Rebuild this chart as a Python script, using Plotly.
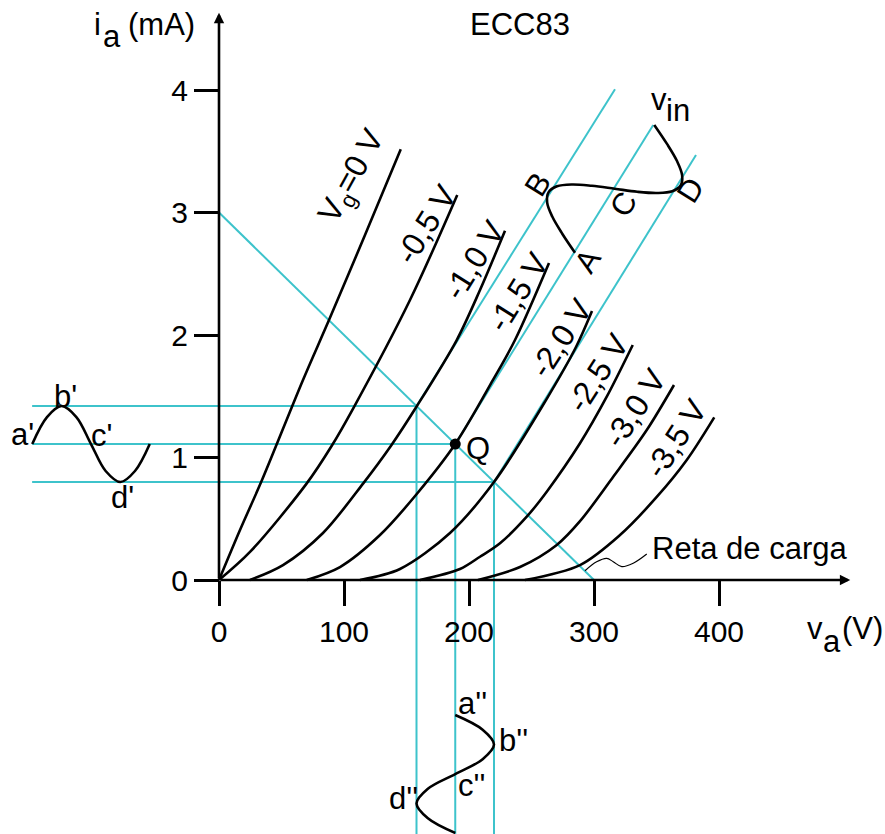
import plotly.graph_objects as go

# ---------------- figure geometry (style) ----------------
W, H = 885, 834
ORIGIN_PX = (219.0, 580.0)      # pixel position of (0 V, 0 mA)
PX_PER_V = 1.25
PX_PER_MA = 122.5
X_RANGE = [-ORIGIN_PX[0] / PX_PER_V, (W - ORIGIN_PX[0]) / PX_PER_V]
Y_RANGE = [-(H - ORIGIN_PX[1]) / PX_PER_MA, ORIGIN_PX[1] / PX_PER_MA]

FONT = "Liberation Sans, Arial, Helvetica, sans-serif"
FS = 31
CYAN = "#3dc3cb"
BLACK = "black"

# ---------------- data ----------------
title_text = "ECC83"
x_ticks = [0, 100, 200, 300, 400]
y_ticks = [0, 1, 2, 3, 4]
x_axis_end = 505.0
y_axis_end = 4.63

grid_labels = ["V<sub>g</sub>=0 V", "-0,5 V", "-1,0 V", "-1,5 V",
               "-2,0 V", "-2,5 V", "-3,0 V", "-3,5 V"]

va_vg00 = [0, 16.8, 34.4, 67.2, 88.0, 116.8, 145.4]
ia_vg00 = [0, 0.408, 0.816, 1.633, 2.122, 2.816, 3.516]
va_vg05 = [0, 24.8, 70.2, 90.2, 107.4, 152.8, 190.6]
ia_vg05 = [0, 0.229, 0.789, 1.096, 1.402, 2.286, 3.143]
va_vg10 = [24.8, 51.2, 83.2, 115.4, 137.6, 158.2, 190.2, 208.8, 228.8]
ia_vg10 = [0, 0.122, 0.384, 0.789, 1.096, 1.418, 1.959, 2.367, 2.851]
va_vg15 = [70.2, 96.8, 128.8, 158.2, 189.0, 219.2, 236.8, 264.0]
ia_vg15 = [0, 0.106, 0.367, 0.702, 1.11, 1.633, 1.959, 2.588]
va_vg20 = [112.8, 144.8, 184.8, 220.0, 261.6, 285.6, 298.4]
ia_vg20 = [0, 0.090, 0.384, 0.80, 1.469, 1.902, 2.196]
va_vg25 = [160.8, 192.8, 208.8, 224.8, 246.2, 262.2, 288.8, 310.2, 331.0]
ia_vg25 = [0, 0.090, 0.190, 0.300, 0.517, 0.721, 1.116, 1.496, 1.918]
va_vg30 = [207.2, 240.8, 270.2, 288.8, 315.4, 342.2, 364.0]
ia_vg30 = [0, 0.106, 0.286, 0.48, 0.843, 1.224, 1.592]
va_vg35 = [244.8, 288.8, 320.8, 350.2, 374.2, 396.2]
ia_vg35 = [0, 0.122, 0.367, 0.678, 0.980, 1.328]

# load line
load_va = [0, 300]
load_ia = [3, 0]

# operating swing: max current, Q point, min current (on the load line)
swing_va = [158.0, 189.0, 220.0]
swing_ia = [1.42, 1.11, 0.80]
swing_left_va = -149.5            # where the horizontal projection lines start
diag_top_va = [316.8, 347.4, 381.6]   # upper ends of the slanted input lines
diag_top_ia = [4.006, 3.714, 3.469]

# input signal v_in (drawn along the slanted lines)
vin_va = [284.8, 274.6, 266.6, 262.5, 263.7, 270.4, 282.4, 298.3, 316.5,
          334.6, 350.6, 362.6, 369.3, 370.5, 366.4, 358.4, 348.2]
vin_ia = [2.672, 2.827, 2.967, 3.083, 3.166, 3.214, 3.229, 3.218, 3.194,
          3.169, 3.159, 3.173, 3.220, 3.303, 3.420, 3.560, 3.715]

# plate current waveform (left)
iwave_va = [-149.4, -137.6, -125.9, -114.1, -102.4, -90.7, -78.9, -67.2, -55.4]
iwave_ia = [1.11, 1.33, 1.42, 1.33, 1.11, 0.89, 0.80, 0.89, 1.11]

# plate voltage waveform (bottom)
vwave_va = [189.0, 210.9, 220.0, 210.9, 189.0, 167.1, 158.0, 167.1, 189.0]
vwave_ia = [-1.102, -1.222, -1.343, -1.463, -1.584, -1.704, -1.824, -1.945, -2.065]

# leader line of the "Reta de carga" label
lead_va = [292.8, 302.1, 310.2, 315.4, 322.2, 331.4, 342.2]
lead_ia = [0.076, 0.149, 0.177, 0.149, 0.109, 0.137, 0.212]

curves = [(va_vg00, ia_vg00), (va_vg05, ia_vg05), (va_vg10, ia_vg10),
          (va_vg15, ia_vg15), (va_vg20, ia_vg20), (va_vg25, ia_vg25),
          (va_vg30, ia_vg30), (va_vg35, ia_vg35)]

# ---------------- drawing ----------------
fig = go.Figure()


def add_line(x, y, color, width, shape="linear", smoothing=1.0):
    fig.add_trace(go.Scatter(
        x=x, y=y, mode="lines",
        line=dict(color=color, width=width, shape=shape, smoothing=smoothing),
        hoverinfo="skip", showlegend=False))


# cyan construction lines
add_line(load_va, load_ia, CYAN, 2)
for va, ia in zip(swing_va, swing_ia):
    add_line([swing_left_va, va], [ia, ia], CYAN, 2)
    add_line([va, va], [ia, Y_RANGE[0] - 0.1], CYAN, 2)
for va, ia, tv, ti in zip(swing_va, swing_ia, diag_top_va, diag_top_ia):
    add_line([va, tv], [ia, ti], CYAN, 2)

# characteristic curves
for va, ia in curves:
    add_line(va, ia, BLACK, 2.6, "spline", 0.9)

# waveforms
add_line(vin_va, vin_ia, BLACK, 2.6, "spline", 1.0)
add_line(iwave_va, iwave_ia, BLACK, 2.6, "spline", 1.0)
add_line(vwave_va, vwave_ia, BLACK, 2.6, "spline", 1.0)
add_line(lead_va, lead_ia, BLACK, 1.2, "spline", 1.0)

# Q point
fig.add_trace(go.Scatter(x=[swing_va[1]], y=[swing_ia[1]], mode="markers",
                         marker=dict(color=BLACK, size=11),
                         hoverinfo="skip", showlegend=False))

# axis lines with arrows
fig.add_annotation(x=x_axis_end, y=0, ax=0, ay=0, xref="x", yref="y",
                   axref="x", ayref="y", showarrow=True, arrowhead=2,
                   arrowsize=0.8, arrowwidth=2.6, arrowcolor=BLACK, text="")
fig.add_annotation(x=0, y=y_axis_end, ax=0, ay=0, xref="x", yref="y",
                   axref="x", ayref="y", showarrow=True, arrowhead=2,
                   arrowsize=0.8, arrowwidth=2.6, arrowcolor=BLACK, text="")


def ptxt(px, py, text, angle=0, size=FS, xanchor="center"):
    fig.add_annotation(x=px / W, y=1 - py / H, xref="paper", yref="paper",
                       text=text, showarrow=False, textangle=angle,
                       xanchor=xanchor, yanchor="middle",
                       font=dict(family=FONT, size=size, color=BLACK))


# curve labels, placed relative to each curve's upper end (pixel offsets)
label_shift = [(-48, 27), (-31, 29), (-31, 29), (-31, 29),
               (-31, 27), (-35, 28), (-39, 23), (-38, 21)]
label_angle = [-61, -58, -58, -58, -57, -57, -57, -57]
for (va, ia), lab, (dx, dy), ang in zip(curves, grid_labels, label_shift, label_angle):
    fig.add_annotation(x=va[-1], y=ia[-1], xref="x", yref="y", text=lab,
                       showarrow=False, textangle=ang, xshift=dx, yshift=-dy,
                       xanchor="center", yanchor="middle",
                       font=dict(family=FONT, size=32, color=BLACK))

# other texts
ptxt(520, 24, title_text)
ptxt(97, 24, "i")
ptxt(112, 37, "a")
ptxt(161, 24, "(mA)")
ptxt(815, 628, "v")
ptxt(832, 641, "a")
ptxt(862, 628, "(V)")
ptxt(659, 99, "v")
ptxt(678, 110, "in")
ptxt(478, 448, "Q")
ptxt(22, 434, "a'")
ptxt(65, 397, "b'")
ptxt(101, 435, "c'")
ptxt(122, 498, "d'")
ptxt(472, 703, "a''")
ptxt(513, 740, "b''")
ptxt(471, 785, "c''")
ptxt(403, 798, "d''")
ptxt(587, 261, "A", -58)
ptxt(538, 185, "B", -58)
ptxt(623, 204, "C", -58)
ptxt(690, 190, "D", -58)
ptxt(650, 548, "Reta de carga", xanchor="left")

axis_common = dict(showgrid=False, zeroline=False, showline=False,
                   ticks="outside", ticklen=25, tickwidth=2.6,
                   tickcolor=BLACK, fixedrange=True,
                   tickfont=dict(family=FONT, size=30, color=BLACK))

fig.update_layout(
    width=W, height=H,
    margin=dict(l=0, r=0, t=0, b=0),
    paper_bgcolor="white", plot_bgcolor="white",
    showlegend=False,
    xaxis=dict(range=X_RANGE, domain=[0, 1], anchor="free",
               position=(H - ORIGIN_PX[1]) / H,
               tickvals=x_ticks, ticktext=[str(t) for t in x_ticks],
               **axis_common),
    yaxis=dict(range=Y_RANGE, domain=[0, 1], anchor="free",
               position=ORIGIN_PX[0] / W,
               tickvals=y_ticks, ticktext=[str(t) for t in y_ticks],
               **axis_common),
)

fig.write_html("out.html",
               config={"displayModeBar": False},
               post_script="document.body.style.margin='0px';"
                           "document.body.style.overflow='hidden';")
